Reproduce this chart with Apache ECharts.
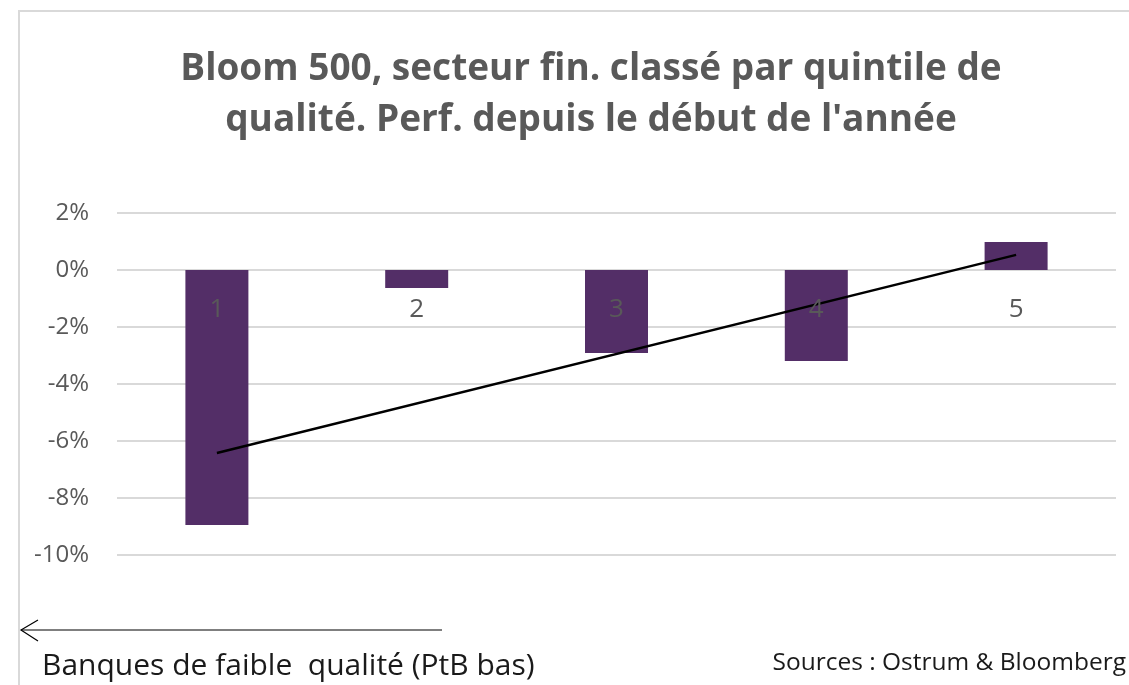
<!DOCTYPE html>
<html>
<head>
<meta charset="utf-8">
<script src="https://cdn.jsdelivr.net/npm/echarts@6/dist/echarts.min.js"></script>
<style>
  html, body { margin: 0; padding: 0; background: #fff; }
  #chart { width: 1129px; height: 685px; }
</style>
</head>
<body>
<div id="chart"></div>
<script>
// Quintiles de qualité (1 = faible PtB)
const categories = ['1', '2', '3', '4', '5'];
// Perf. depuis le début de l'année, en %
const perfValues = [-8.95, -0.63, -2.91, -3.19, 0.98];
// Droite de tendance (extrémités)
const trendValues = [-6.42, null, null, null, 0.53];
const yTicks = { min: -10, max: 2, interval: 2 };

const titleText = "Bloom 500, secteur fin. classé par quintile de\nqualité. Perf. depuis le début de l'année";
const noteLeft = 'Banques de faible  qualité (PtB bas)';
const noteRight = 'Sources : Ostrum & Bloomberg';

const FONT = '"Open Sans", "Noto Sans", sans-serif';
const grey = '#595959';
const frame = '#d9d9d9';

const chart = echarts.init(document.getElementById('chart'), null, { renderer: 'canvas' });

chart.setOption({
  animation: false,
  backgroundColor: '#fff',
  textStyle: { fontFamily: FONT },
  title: {
    text: titleText,
    left: 586,
    textAlign: 'center',
    top: 39,
    textStyle: { fontFamily: FONT, fontSize: 37, fontWeight: 'bold', color: grey, lineHeight: 51 },
  },
  grid: { left: 117, right: 13, top: 213, bottom: 130 },
  xAxis: {
    type: 'category',
    data: categories,
    z: 5,
    axisLine: { show: false },
    axisTick: { show: false },
    // the quintile labels sit just under the 0% line, as in the original
    axisLabel: { color: grey, fontSize: 26, margin: -258, fontFamily: FONT },
  },
  yAxis: {
    type: 'value',
    min: yTicks.min,
    max: yTicks.max,
    interval: yTicks.interval,
    axisLine: { show: false },
    axisTick: { show: false },
    axisLabel: { color: grey, fontSize: 24, margin: 28, fontFamily: FONT, formatter: '{value}%' },
    splitLine: { lineStyle: { color: frame, width: 2 } },
  },
  series: [
    {
      type: 'bar',
      data: perfValues,
      barWidth: 63,
      itemStyle: { color: '#532e67' },
      z: 2,
    },
    {
      type: 'line',
      data: trendValues,
      connectNulls: true,
      showSymbol: false,
      symbol: 'none',
      lineStyle: { color: '#000', width: 2.5 },
      z: 4,
    },
  ],
  graphic: [
    // cadre
    { type: 'line', shape: { x1: 19, y1: 11, x2: 1129, y2: 11 }, style: { stroke: frame, lineWidth: 2 } },
    { type: 'line', shape: { x1: 19, y1: 10, x2: 19, y2: 685 }, style: { stroke: frame, lineWidth: 2 } },
    // flèche
    { type: 'line', shape: { x1: 21, y1: 630, x2: 442, y2: 630 }, style: { stroke: '#000', lineWidth: 1.2 } },
    { type: 'polyline', shape: { points: [[38, 620], [21, 630], [38, 641]] }, style: { stroke: '#000', lineWidth: 1.2, fill: null } },
    {
      type: 'text', left: 42, top: 651,
      style: { text: noteLeft, fontFamily: FONT, fontSize: 30, fill: '#1a1a1a' },
    },
    {
      type: 'text', right: 3, top: 651,
      style: { text: noteRight, fontFamily: FONT, fontSize: 24.5, fill: '#1a1a1a' },
    },
  ],
});
</script>
</body>
</html>
